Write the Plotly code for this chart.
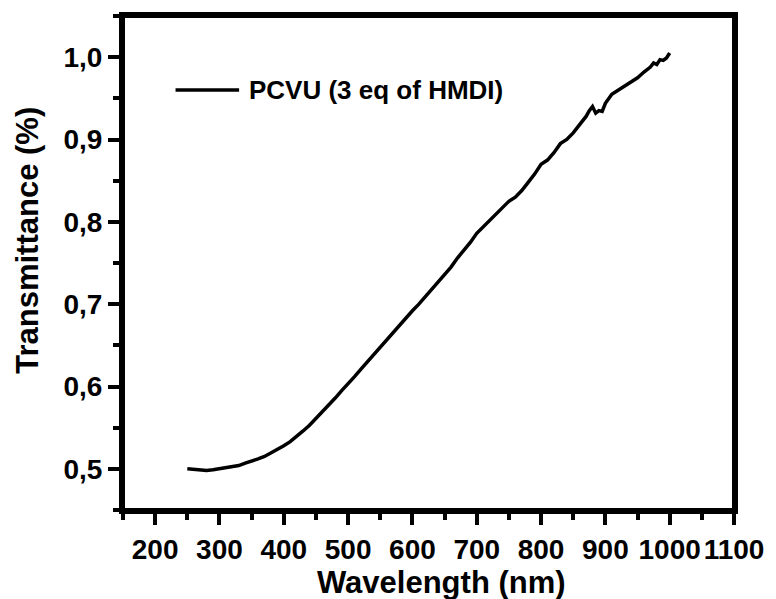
import plotly.graph_objects as go

wavelength = [250, 260, 270, 280, 290, 300, 310, 320, 330, 340, 350, 360, 370, 380, 390,
              400, 410, 420, 430, 440, 450, 460, 470, 480, 490, 500, 510, 520, 530, 540,
              550, 560, 570, 580, 590, 600, 610, 620, 630, 640, 650, 660, 670, 680, 690,
              700, 710, 720, 730, 740, 750, 760, 770, 780, 790, 800, 810, 820, 830, 840,
              850, 860, 870, 875, 880, 885, 890, 895, 900, 910, 920, 930, 940, 950, 960,
              970, 975, 980, 985, 990, 995, 1000]
transmittance = [0.500, 0.499, 0.498, 0.498, 0.499, 0.500, 0.501, 0.503, 0.504, 0.507, 0.509,
                 0.512, 0.515, 0.519, 0.523, 0.528, 0.533, 0.539, 0.546, 0.553, 0.561, 0.569,
                 0.578, 0.586, 0.595, 0.603, 0.612, 0.621, 0.630, 0.639, 0.648, 0.657, 0.666,
                 0.675, 0.683, 0.692, 0.700, 0.709, 0.718, 0.727, 0.736, 0.745, 0.756, 0.765,
                 0.775, 0.786, 0.794, 0.802, 0.810, 0.817, 0.825, 0.830, 0.838, 0.848, 0.858,
                 0.870, 0.875, 0.884, 0.895, 0.900, 0.908, 0.918, 0.928, 0.935, 0.940, 0.932,
                 0.935, 0.934, 0.944, 0.955, 0.960, 0.964, 0.970, 0.975, 0.982, 0.988, 0.993,
                 0.991, 0.997, 0.996, 0.999, 1.005]
series_name = "PCVU (3 eq of HMDI)"
x_title = "Wavelength (nm)"
y_title = "Transmittance (%)"
x_ticks = [200, 300, 400, 500, 600, 700, 800, 900, 1000, 1100]
x_tick_labels = ["200", "300", "400", "500", "600", "700", "800", "900", "1000", "1100"]
y_ticks = [0.5, 0.6, 0.7, 0.8, 0.9, 1.0]
y_tick_labels = ["0,5", "0,6", "0,7", "0,8", "0,9", "1,0"]

FONT = "Liberation Sans, Arial, sans-serif"

fig = go.Figure()
fig.add_trace(go.Scatter(x=wavelength, y=transmittance, mode="lines", name=series_name,
                         line=dict(color="black", width=3.5), showlegend=False))

axis_common = dict(showline=True, linecolor="black", linewidth=4, mirror=True,
                   showgrid=False, zeroline=False, ticks="outside", ticklen=11,
                   tickwidth=3.5, tickcolor="black",
                   tickfont=dict(family=FONT, size=28, color="black"))

fig.update_xaxes(range=[150, 1100], tickvals=x_ticks,
                 ticktext=["<b>%s</b>" % t for t in x_tick_labels],
                 minor=dict(ticks="outside", ticklen=6, tickwidth=3.5, tickcolor="black", dtick=50, tick0=150),
                 **axis_common)
fig.update_yaxes(range=[0.45, 1.05], tickvals=y_ticks,
                 ticktext=["<b>%s</b>" % t for t in y_tick_labels],
                 minor=dict(ticks="outside", ticklen=6, tickwidth=3.5, tickcolor="black", dtick=0.05, tick0=0.45),
                 **axis_common)

# frame
fig.add_shape(type="rect", xref="paper", yref="paper", x0=0, x1=1, y0=0, y1=1,
              line=dict(color="black", width=4), layer="above")

# legend (line sample + label)
fig.add_shape(type="line", xref="paper", yref="paper", x0=0.086, x1=0.190, y0=0.850, y1=0.850,
              line=dict(color="black", width=3.5))
fig.add_annotation(xref="paper", yref="paper", x=0.203, y=0.850, xanchor="left", yanchor="middle",
                   text="<b>%s</b>" % series_name, showarrow=False,
                   font=dict(family=FONT, size=26, color="black"))

# axis titles
fig.add_annotation(xref="paper", yref="paper", x=(444 - 123) / 616, y=(510 - 582) / 494,
                   xanchor="center", yanchor="middle", text="<b>%s</b>" % x_title, showarrow=False,
                   font=dict(family=FONT, size=31, color="black"))
fig.add_annotation(xref="paper", yref="paper", x=(27 - 123) / 616, y=(510 - 240) / 494,
                   xanchor="center", yanchor="middle", text="<b>%s</b>" % y_title, showarrow=False,
                   textangle=-90, font=dict(family=FONT, size=31, color="black"))

fig.update_layout(width=776, height=599, margin=dict(l=123, r=37, t=16, b=89),
                  paper_bgcolor="white", plot_bgcolor="white",
                  showlegend=False)

fig.write_html("out.html")
